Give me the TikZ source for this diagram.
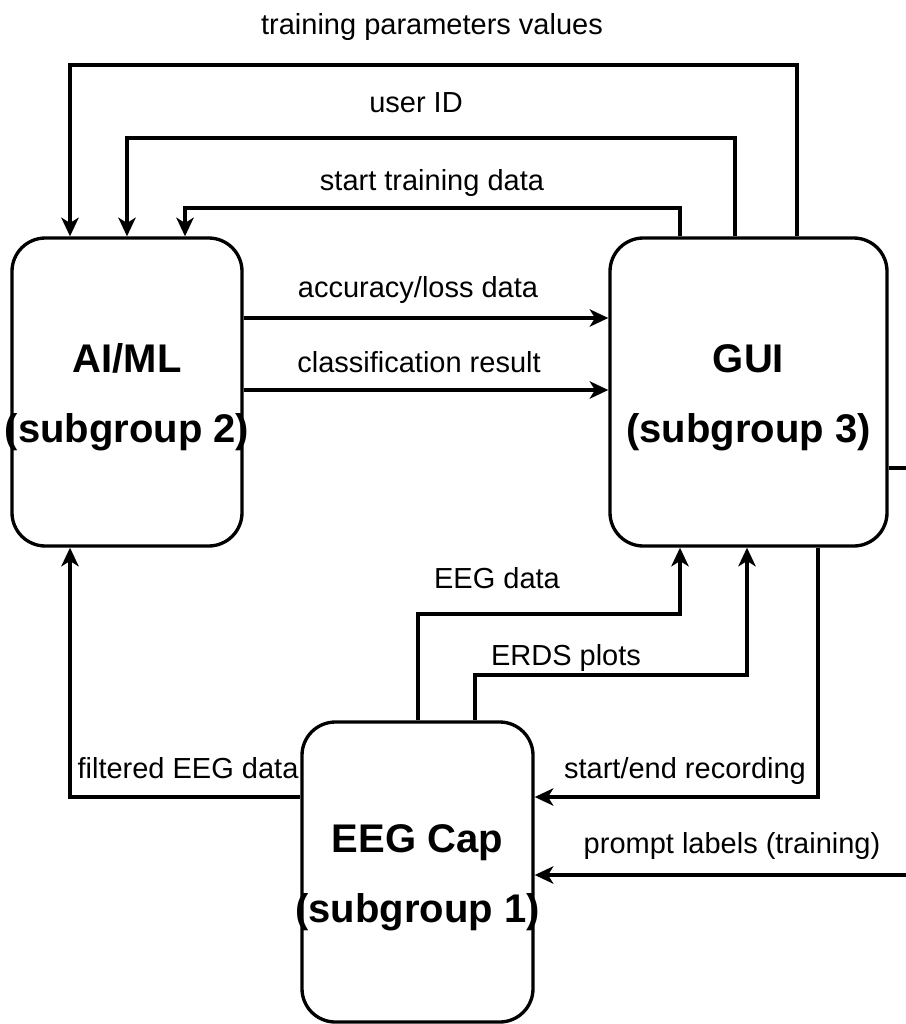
\documentclass[tikz,border=0pt]{standalone}
\usepackage{fontspec}
\setmainfont{Liberation Sans}
\usetikzlibrary{arrows.meta}
\begin{document}
\begin{tikzpicture}[x=0.75pt,y=-0.75pt,
  line width=2.5pt,
  block/.style={draw, rounded corners=25pt, inner sep=0pt},
  title/.style={align=center, inner sep=0pt,
    font=\fontsize{30}{52.5}\selectfont\bfseries},
  lbl/.style={anchor=base, font=\fontsize{21.75}{26}\selectfont, inner sep=0pt},
  arr/.style={-{Stealth[length=14pt,width=13pt,inset=4pt]}, line join=miter}]
\useasboundingbox (0,0) rectangle (906,1024);

% subsystem blocks
\node[block, minimum width=172.5pt, minimum height=231pt] (ai) at (127,392) {};
\node[block, minimum width=207.75pt, minimum height=231pt] (gui) at (748.5,392) {};
\node[block, minimum width=173.25pt, minimum height=225pt] (cap) at (417.5,872) {};
\node[title] (aitxt) at ([yshift=-4pt]ai.center) {AI/ML\\(subgroup 2)};
\node[title] (guitxt) at ([yshift=-4pt]gui.center) {GUI\\(subgroup 3)};
\node[title] (captxt) at ([yshift=-4pt]cap.center) {EEG Cap\\(subgroup 1)};

% free ends at the right margin
\coordinate (promptin) at (906,875);
\coordinate (guiout) at (906,468);

% GUI -> AI/ML
\draw[arr] (gui.north -| 797,0) -- (797,65) -- (70,65) -- (ai.north -| 70,0);
\node[lbl] at (432,35) {training parameters values};
\draw[arr] (gui.north -| 735,0) -- (735,138) -- (127,138) -- (ai.north -| 127,0);
\node[lbl] at (416,113) {user ID};
\draw[arr] (gui.north -| 680,0) -- (680,208) -- (185,208) -- (ai.north -| 185,0);
\node[lbl] at (432,190) {start training data};

% AI/ML -> GUI
\draw[arr] (ai.east |- 0,318) -- (gui.west |- 0,318);
\node[lbl] at (418,297) {accuracy/loss data};
\draw[arr] (ai.east |- 0,390) -- (gui.west |- 0,390);
\node[lbl] at (419,372) {classification result};

% EEG Cap -> GUI
\draw[arr] (cap.north -| 418,0) -- (418,614) -- (680,614) -- (gui.south -| 680,0);
\node[lbl] at (497,588) {EEG data};
\draw[arr] (cap.north -| 475,0) -- (475,675) -- (747,675) -- (gui.south -| 747,0);
\node[lbl] at (566,665) {ERDS plots};

% GUI -> EEG Cap
\draw[arr] (gui.south -| 818,0) -- (818,797) -- (cap.east |- 0,797);
\node[lbl] at (685,778) {start/end recording};
\draw[arr] (promptin) -- (cap.east |- promptin);
\node[lbl] at (732,853) {prompt labels (training)};
\draw (gui.east |- guiout) -- (guiout);

% EEG Cap -> AI/ML
\draw[arr] (cap.west |- 0,797) -- (70,797) -- (ai.south -| 70,0);
\node[lbl] at (188,778) {filtered EEG data};
\end{tikzpicture}
\end{document}
